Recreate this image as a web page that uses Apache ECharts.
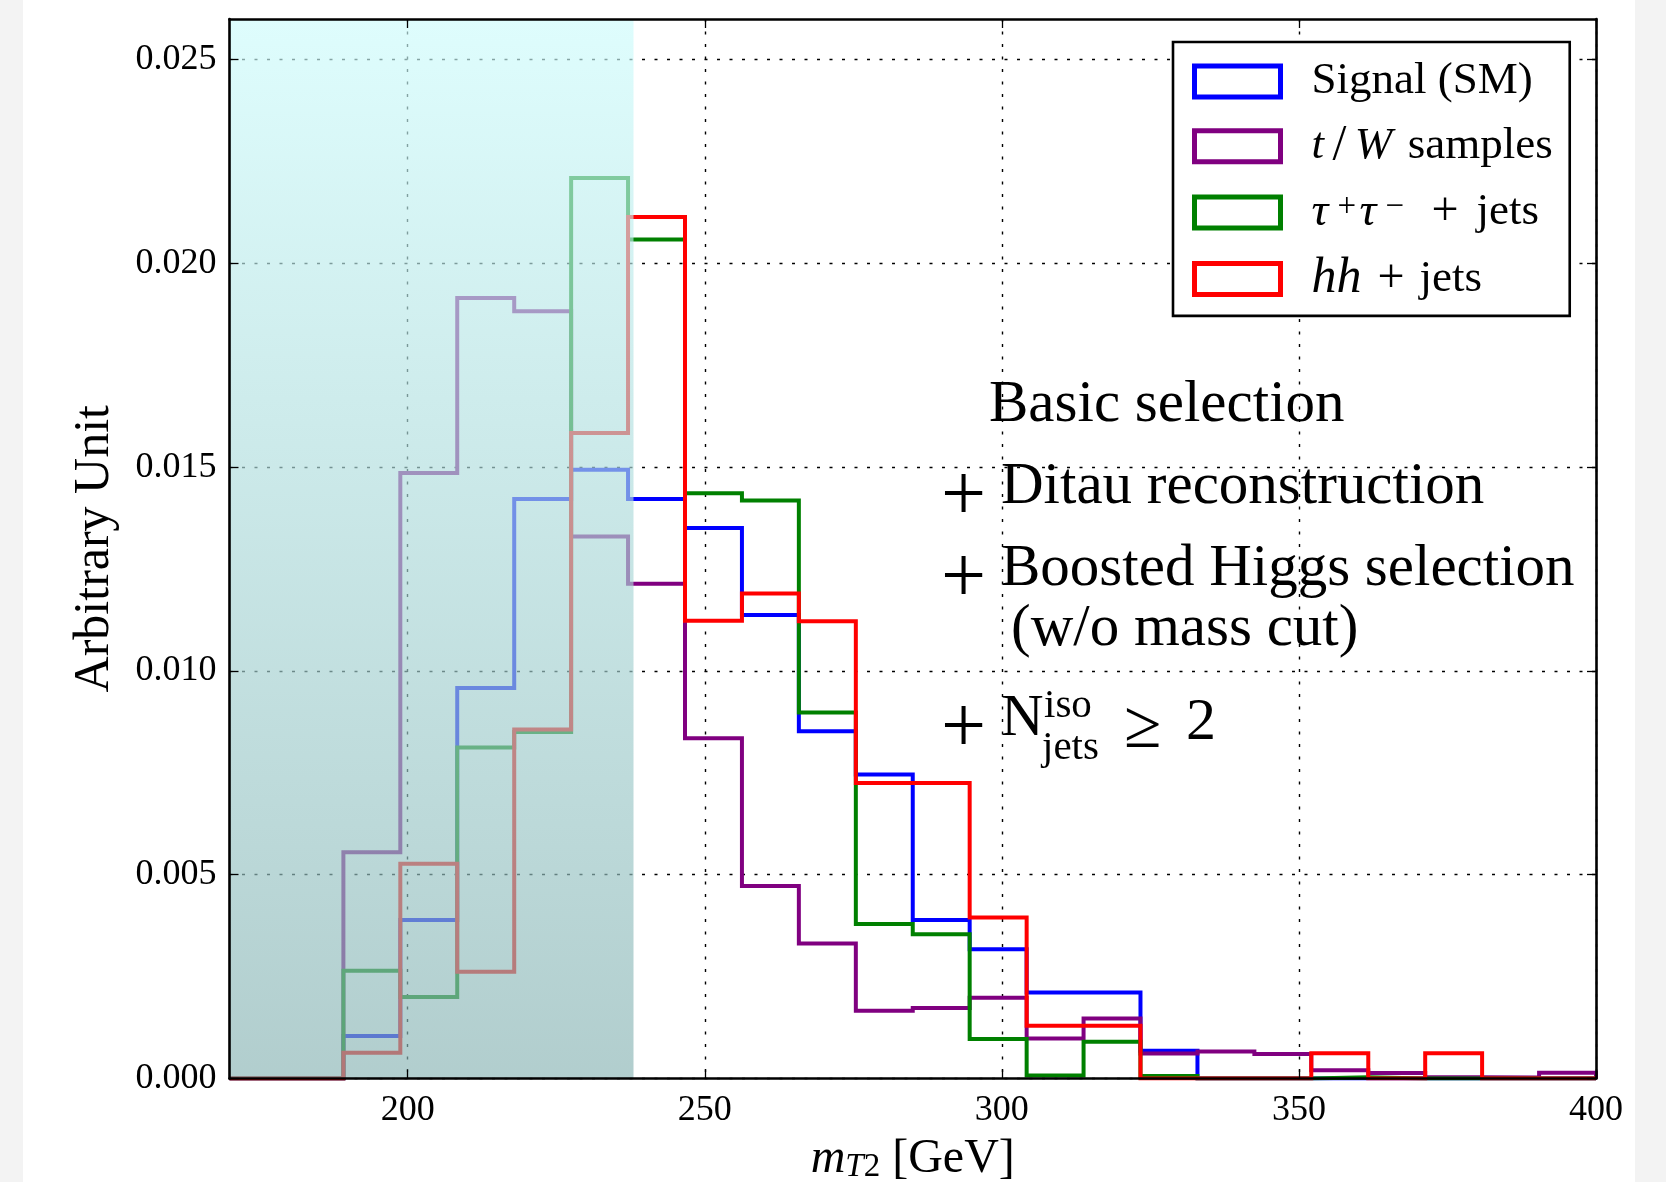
<!DOCTYPE html>
<html><head><meta charset="utf-8">
<script src="https://cdn.jsdelivr.net/npm/echarts@6/dist/echarts.min.js"></script>
<style>
html,body{margin:0;padding:0;}
body{width:1666px;height:1182px;overflow:hidden;background:linear-gradient(to right,#f3f3f3 0,#f3f3f3 23px,#fff 23px,#fff 1635px,#f3f3f3 1635px);}
#c{width:1666px;height:1182px;}
</style></head><body><div id="c"></div>
<script>
// ---- data ----
const binEdges = [170, 179.58, 189.17, 198.75, 208.33, 217.92, 227.5, 237.08, 246.67, 256.25, 265.83, 275.42, 285, 294.58, 304.17, 313.75, 323.33, 332.92, 342.5, 352.08, 361.67, 371.25, 380.83, 390.42, 400];
const signalSM = [0, 0, 0.00104, 0.00389, 0.00958, 0.01422, 0.01494, 0.01422, 0.01351, 0.01137, 0.00852, 0.00746, 0.00389, 0.00317, 0.00211, 0.00211, 0.00068, 0, 0, 0, 0, 0, 0, 0];
const tWSamples = [0, 0, 0.00555, 0.01486, 0.01915, 0.01883, 0.0133, 0.01214, 0.00835, 0.00472, 0.00331, 0.00166, 0.00173, 0.00198, 0.00098, 0.00147, 0.00061, 0.00066, 0.00060, 0.00020, 0.00013, 0.00003, 0.00002, 0.00014];
const tautauJets = [0, 0, 0.00264, 0.00200, 0.00812, 0.0085, 0.0221, 0.02059, 0.01436, 0.01418, 0.00898, 0.00379, 0.00354, 0.00097, 0.00007, 0.0009, 0.00006, 0, 0, 0.00003, 0, 0, 0, 0];
const hhJets = [0, 0, 0.00063, 0.00527, 0.00262, 0.00856, 0.01584, 0.02114, 0.01123, 0.0119, 0.01122, 0.00725, 0.00725, 0.00395, 0.00129, 0.00129, 0, 0, 0, 0.00062, 0, 0.00062, 0, 0];
const seriesNames = ['Signal (SM)', 't/W samples', 'τ+τ− + jets', 'hh + jets'];
const seriesColors = ['#0000ff', '#800080', '#008000', '#ff0000'];
const xTicks = [200, 250, 300, 350, 400];
const yTicks = [0, 0.005, 0.010, 0.015, 0.020, 0.025];
const xRange = [170, 400];
const yRange = [0, 0.026];
const shadeRange = [170, 238];

const FONT = "'Liberation Serif', 'DejaVu Serif', serif";

function stepPoints(vals) {
  const pts = binEdges.map((e, i) => [e, vals[Math.min(i, vals.length - 1)]]);
  pts.push([binEdges[binEdges.length - 1], 0]);
  return pts;
}

const allValues = [signalSM, tWSamples, tautauJets, hhJets];

const chart = echarts.init(document.getElementById('c'), null, {renderer: 'canvas'});

const gridLine = {show: true, lineStyle: {color: '#000', width: 1.4, type: [3, 9.5]}};

function xAxisBase(extra) {
  return Object.assign({
    type: 'value', min: xRange[0], max: xRange[1], gridIndex: 0,
    axisLine: {show: false, onZero: false},
    axisTick: {show: false},
    axisLabel: {show: false},
    splitLine: {show: false}
  }, extra);
}
function yAxisBase(extra) {
  return Object.assign({
    type: 'value', min: yRange[0], max: yRange[1], gridIndex: 0,
    axisLine: {show: false, onZero: false},
    axisTick: {show: false},
    axisLabel: {show: false},
    splitLine: {show: false}
  }, extra);
}

const frameLine = {show: true, onZero: false, lineStyle: {color: '#000', width: 2.6}};
const tickStyle = (vals) => ({show: true, inside: true, length: 9, customValues: vals, lineStyle: {color: '#000', width: 1.3}});

const series = allValues.map((vals, i) => ({
  type: 'line', name: seriesNames[i], data: stepPoints(vals), step: 'end',
  symbol: 'none', showSymbol: false, animation: false, z: 3,
  xAxisIndex: 0, yAxisIndex: 0,
  lineStyle: {color: seriesColors[i], width: 4, join: 'miter', cap: 'butt'},
  itemStyle: {color: seriesColors[i]}
}));

series.push({
  type: 'line', name: 'shade', data: [[xRange[0], 0]], symbol: 'none', showSymbol: false,
  lineStyle: {opacity: 0}, z: 10, animation: false, silent: true,
  markArea: {
    silent: true, z: 10,
    itemStyle: {
      color: {type: 'linear', x: 0, y: 0, x2: 0, y2: 1, colorStops: [
        {offset: 0, color: 'rgba(205,252,252,0.66)'},
        {offset: 1, color: 'rgba(137,180,180,0.66)'}
      ]}
    },
    data: [[{xAxis: shadeRange[0]}, {xAxis: shadeRange[1]}]]
  }
});

const legendLabels = {
  'Signal (SM)': '{gap|}Signal (SM)',
  't/W samples': '{gap|}{tt|t}{sl|/}{ww|W} samples',
  'τ+τ− + jets': '{gap|}{tau|τ}{sup|+}{tau|τ}{sup|−}{sp1|}{pl|+}{sp2|}jets',
  'hh + jets': '{gap|}{hh|hh}{sp3|}{pl|+}{sp4|}jets'
};

const annFont = 59;
const annTexts = [];
function addText(txt, x, y, size, italic) {
  annTexts.push({
    type: 'text', x: x, y: y, z: 40,
    style: {text: txt, fontFamily: FONT, fontSize: size, fontStyle: italic ? 'italic' : 'normal',
      fill: '#000', verticalAlign: 'middle', textVerticalAlign: 'middle', align: 'left'}
  });
}
// y values are the vertical middle of each text line
addText('Basic selection', 989, 424 - 19, annFont);
addText('+', 941, 499, 80);
addText('Ditau reconstruction', 1001, 506 - 19, annFont);
addText('+', 941, 581, 80);
addText('Boosted Higgs selection', 1001, 588 - 19, annFont);
addText('(w/o mass cut)', 1011, 648 - 19, annFont);
addText('+', 941, 731, 80);
addText('N', 1001, 738 - 19, annFont);
addText('iso', 1044, 719 - 13, 41);
addText('jets', 1042, 761 - 13, 41);
addText('≥', 1124, 738 - 9, 68);
addText('2', 1186, 738 - 15, 60);

const LH = 44;
const option = {
  animation: false,
  backgroundColor: 'transparent',
  grid: {left: 229.5, right: 70, top: 19, bottom: 103.6, containLabel: false, outerBoundsMode: 'none'},
  xAxis: [
    xAxisBase({position: 'bottom', z: 0, splitLine: gridLine, axisTick: {show: false, customValues: xTicks}, axisLabel: {show: false, customValues: xTicks}}),
    xAxisBase({position: 'bottom', z: 20, axisLine: frameLine, axisTick: tickStyle(xTicks),
      axisLabel: {show: true, customValues: xTicks, margin: 14, color: '#000', fontFamily: FONT, fontSize: 36},
      name: '{i|m}{sub|T}{sub2|2} [GeV]', nameLocation: 'middle', nameGap: 56,
      nameTextStyle: {color: '#000', fontFamily: FONT, fontSize: 48,
        rich: {
          i: {fontFamily: FONT, fontSize: 48, fontStyle: 'italic', color: '#000'},
          sub: {fontFamily: FONT, fontSize: 33, fontStyle: 'italic', color: '#000', verticalAlign: 'bottom', padding: [16, 0, 0, 0]},
          sub2: {fontFamily: FONT, fontSize: 33, color: '#000', verticalAlign: 'bottom', padding: [16, 0, 0, 0]}
        }}
    }),
    xAxisBase({position: 'top', z: 20, axisLine: frameLine, axisTick: tickStyle(xTicks)})
  ],
  yAxis: [
    yAxisBase({position: 'left', z: 0, splitLine: gridLine, axisTick: {show: false, customValues: yTicks}, axisLabel: {show: false, customValues: yTicks}}),
    yAxisBase({position: 'left', z: 20, axisLine: frameLine, axisTick: tickStyle(yTicks),
      axisLabel: {show: true, customValues: yTicks, margin: 13, color: '#000', fontFamily: FONT, fontSize: 36,
        formatter: v => v.toFixed(3)},
      name: 'Arbitrary Unit', nameLocation: 'middle', nameGap: 110, nameRotate: 90,
      nameTextStyle: {color: '#000', fontFamily: FONT, fontSize: 50}
    }),
    yAxisBase({position: 'right', z: 20, axisLine: frameLine, axisTick: tickStyle(yTicks)})
  ],
  legend: {
    orient: 'vertical', left: 1173, top: 42, z: 30,
    padding: [17, 17, 12, 19],
    itemGap: 17.3, itemWidth: 86, itemHeight: 31,
    icon: 'rect', selectedMode: false,
    backgroundColor: '#fff', borderColor: '#000', borderWidth: 2.6, borderRadius: 0,
    data: seriesNames.map((n, i) => ({name: n, itemStyle: {color: '#fff', borderColor: seriesColors[i], borderWidth: 5}})),
    formatter: n => legendLabels[n],
    textStyle: {fontFamily: FONT, fontSize: 45, color: '#000', lineHeight: LH,
      rich: {
        gap: {width: 26, lineHeight: LH},
        tt: {fontFamily: FONT, fontSize: 45, fontStyle: 'italic', color: '#000', width: 17, lineHeight: LH},
        sl: {fontFamily: FONT, fontSize: 50, color: '#000', width: 22, align: 'center', lineHeight: LH},
        ww: {fontFamily: FONT, fontSize: 45, fontStyle: 'italic', color: '#000', width: 46, lineHeight: LH},
        tau: {fontFamily: FONT, fontSize: 47, fontStyle: 'italic', color: '#000', width: 26, lineHeight: LH},
        sup: {fontFamily: FONT, fontSize: 33, color: '#000', width: 22, verticalAlign: 'top', lineHeight: 30},
        pl: {fontFamily: FONT, fontSize: 48, color: '#000', width: 30, lineHeight: LH},
        sp1: {width: 24, lineHeight: LH}, sp2: {width: 15, lineHeight: LH},
        hh: {fontFamily: FONT, fontSize: 50, fontStyle: 'italic', color: '#000', width: 58, lineHeight: LH},
        sp3: {width: 8, lineHeight: LH}, sp4: {width: 12, lineHeight: LH}
      }}
  },
  graphic: annTexts,
  series: series
};
chart.setOption(option);
</script></body></html>
